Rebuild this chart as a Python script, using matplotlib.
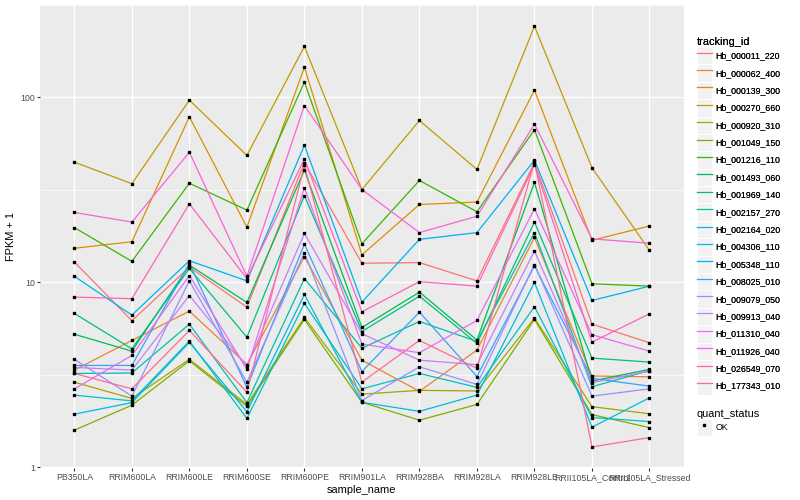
import numpy as np
import matplotlib
matplotlib.use("Agg")
import matplotlib.pyplot as plt
from matplotlib.lines import Line2D
from matplotlib.patches import Rectangle
from matplotlib.legend_handler import HandlerLine2D

plt.rcParams['font.family'] = ['Liberation Sans', 'DejaVu Sans']

samples = ["PB350LA", "RRIM600LA", "RRIM600LE", "RRIM600SE", "RRIM600PE", "RRIM901LA",
           "RRIM928BA", "RRIM928LA", "RRIM928LE", "RRII105LA_Control", "RRII105LA_Stressed"]

tracking_ids = ["Hb_000011_220", "Hb_000062_400", "Hb_000139_300", "Hb_000270_660",
                "Hb_000920_310", "Hb_001049_150", "Hb_001216_110", "Hb_001493_060",
                "Hb_001969_140", "Hb_002157_270", "Hb_002164_020", "Hb_004306_110",
                "Hb_005348_110", "Hb_008025_010", "Hb_009079_050", "Hb_009913_040",
                "Hb_011310_040", "Hb_011926_040", "Hb_026549_070", "Hb_177343_010"]

# FPKM + 1 per gene, one row per tracking_id, one value per sample
fpkm_plus1 = [
    [12.9, 6.21, 12.1, 7.35, 44.4, 12.7, 12.8, 10.2, 44.5, 5.95, 4.72],
    [3.36, 4.86, 7.00, 3.60, 13.8, 3.80, 2.58, 4.31, 17.5, 3.12, 3.09],
    [15.3, 16.6, 78.6, 19.9, 145.8, 14.1, 26.4, 27.2, 109.5, 16.9, 20.2],
    [44.7, 34.2, 96.7, 48.6, 188.7, 31.8, 75.1, 40.8, 242.9, 41.7, 14.9],
    [2.89, 2.36, 3.84, 2.19, 6.47, 2.49, 2.61, 2.59, 6.41, 2.13, 1.95],
    [1.59, 2.17, 3.77, 2.14, 6.31, 2.25, 1.80, 2.19, 6.31, 1.93, 1.64],
    [19.8, 13.0, 34.4, 24.6, 121.0, 16.2, 35.6, 24.1, 66.9, 9.84, 9.55],
    [5.25, 4.25, 12.4, 7.80, 40.5, 5.71, 8.86, 4.88, 34.8, 2.93, 3.39],
    [6.80, 4.38, 11.9, 5.06, 29.5, 5.43, 8.43, 4.68, 21.2, 3.90, 3.71],
    [3.22, 3.24, 5.95, 2.24, 10.5, 4.41, 6.15, 4.80, 18.6, 2.73, 3.34],
    [2.46, 2.29, 4.82, 1.84, 7.70, 2.66, 3.22, 2.71, 7.39, 1.86, 1.77],
    [1.94, 2.24, 4.74, 2.00, 8.61, 2.25, 2.01, 2.46, 10.0, 1.65, 2.38],
    [10.8, 6.66, 13.1, 10.2, 55.2, 7.83, 17.1, 18.6, 45.8, 7.99, 9.55],
    [3.56, 3.56, 12.7, 2.71, 16.1, 3.30, 6.91, 3.10, 12.3, 3.03, 2.75],
    [3.84, 2.43, 10.2, 2.89, 14.5, 2.30, 3.50, 2.81, 12.5, 2.43, 2.66],
    [3.47, 3.36, 8.50, 3.53, 18.4, 5.28, 3.80, 3.59, 14.8, 2.87, 3.32],
    [2.66, 4.03, 10.9, 3.39, 32.5, 4.64, 4.17, 6.23, 25.0, 5.22, 4.25],
    [23.9, 21.2, 50.6, 10.8, 90.5, 31.8, 18.6, 22.8, 71.7, 17.2, 16.3],
    [8.33, 8.17, 26.6, 10.5, 46.6, 6.94, 10.1, 9.55, 43.4, 4.76, 6.77],
    [3.22, 2.66, 5.50, 2.55, 42.9, 2.89, 4.86, 3.43, 45.1, 1.29, 1.45],
]

# ggplot2 hue palette, 20 levels
colors = ["#F8766D", "#EA8331", "#D89000", "#C09B00", "#A3A500", "#7CAE00", "#39B600",
          "#00BB4E", "#00BF7D", "#00C1A3", "#00BFC4", "#00BAE0", "#00B0F6", "#35A2FF",
          "#9590FF", "#C77CFF", "#E76BF3", "#FA62DB", "#FF62BC", "#FF6C91"]

quant_status = "OK"


class KeyHandler(HandlerLine2D):
    # grey ggplot style key box behind the legend glyph
    def create_artists(self, legend, orig_handle, xdescent, ydescent, width, height, fontsize, trans):
        bg = Rectangle((-xdescent, -ydescent), width, height, facecolor="#F2F2F2",
                       edgecolor="white", lw=0.7, transform=trans)
        arts = super().create_artists(legend, orig_handle, xdescent, ydescent,
                                      width, height, fontsize, trans)
        return [bg] + arts


fig = plt.figure(figsize=(8, 5), dpi=100)
ax = fig.add_axes([0.0498, 0.064, 0.855 - 0.0498, 0.99 - 0.064])
ax.set_facecolor("#EBEBEB")

x = np.arange(len(samples))
for vals, c in zip(fpkm_plus1, colors):
    ax.plot(x, vals, color=c, lw=0.9, zorder=2)
for vals in fpkm_plus1:
    ax.plot(x, vals, ls="none", marker="s", ms=2.1, color="black", zorder=3)

ax.set_yscale("log")
allv = np.array(fpkm_plus1)
lo, hi = np.log10(allv.min()), np.log10(allv.max())
pad = 0.05 * (hi - lo)
ax.set_ylim(10 ** (lo - pad), 10 ** (hi + pad))
ax.set_xlim(-0.6, len(samples) - 0.4)

ax.set_yticks([1, 10, 100])
ax.set_yticklabels(["1", "10", "100"])
ax.set_yticks([10 ** 0.5, 10 ** 1.5, 10 ** 2.5], minor=True)
ax.yaxis.set_minor_formatter(plt.NullFormatter())
ax.set_xticks(x)
ax.set_xticklabels(samples)

ax.grid(which="major", color="white", lw=1.0)
ax.grid(which="minor", axis="y", color="white", lw=0.5)
ax.set_axisbelow(True)
for s in ax.spines.values():
    s.set_visible(False)
ax.tick_params(which="major", length=2.0, width=0.8, color="#333333",
               labelsize=6.3, labelcolor="#4D4D4D", pad=1.5)
ax.tick_params(which="minor", length=0)

ax.set_xlabel("sample_name", fontsize=7.9, labelpad=2)
ax.set_ylabel("FPKM + 1", fontsize=7.9, labelpad=3)

legend_style = dict(loc="upper left", frameon=False, fontsize=6.3, title_fontsize=7.9,
                    handlelength=1.75, handleheight=2.68, labelspacing=0,
                    handletextpad=0.35, borderpad=0, borderaxespad=0,
                    alignment="left", handler_map={Line2D: KeyHandler()})

handles = [Line2D([], [], color=c, lw=0.9) for c in colors]
leg1 = fig.legend(handles, tracking_ids, title="tracking_id",
                  bbox_to_anchor=(0.871, 0.926), **legend_style)

ok = Line2D([], [], ls="none", marker="s", ms=2.1, color="black")
leg2 = fig.legend([ok], [quant_status], title="quant_status",
                  bbox_to_anchor=(0.871, 0.182), **legend_style)
fig.add_artist(leg1)

fig.savefig("out.png", dpi=100)
